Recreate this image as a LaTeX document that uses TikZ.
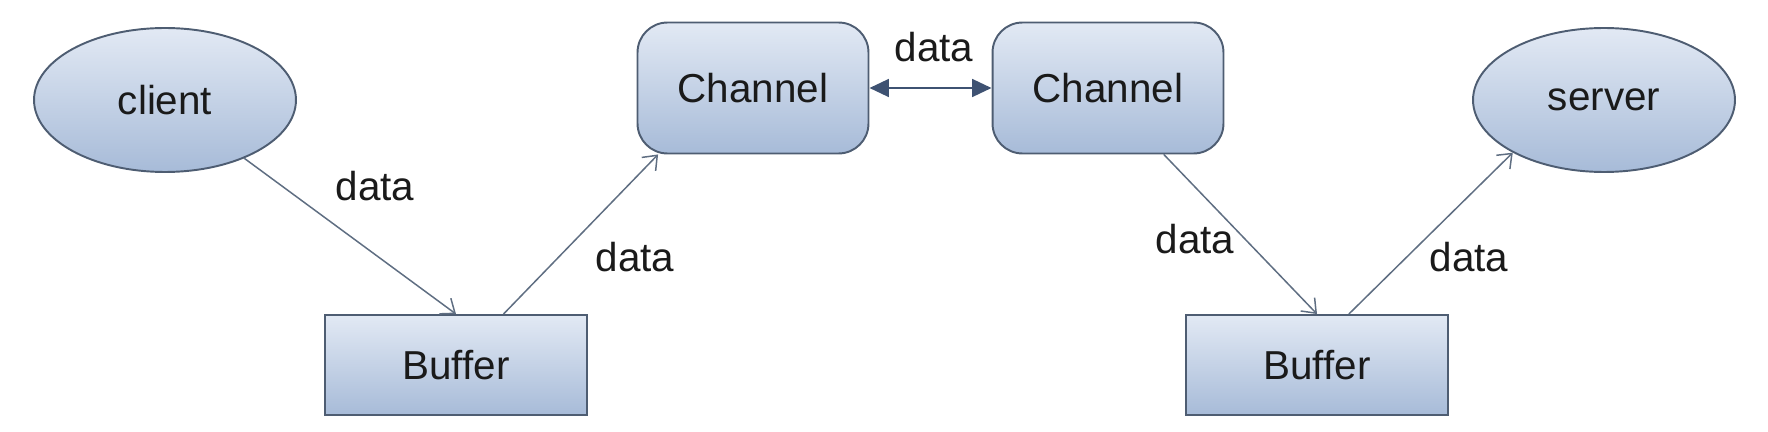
\documentclass[tikz,border=0pt]{standalone}
\usepackage{fontspec}
\setmainfont{Liberation Sans}
\usetikzlibrary{shapes.geometric,arrows.meta}
\definecolor{boxtop}{HTML}{E2E9F4}
\definecolor{boxbot}{HTML}{A7BBD8}
\definecolor{boxline}{HTML}{4E5D72}
\definecolor{flowline}{HTML}{5F6E82}
\definecolor{linkline}{HTML}{3E5272}
\definecolor{labeltext}{HTML}{1A1A1A}
\newcommand{\labelfont}{\fontsize{23}{27}\selectfont}
\newcommand{\flowlabel}[3]{\node[flowtext] (#1) at (#2,#3) {data};}
\tikzset{
  shaded/.style={draw=boxline, line width=1.1pt, top color=boxtop, bottom color=boxbot, text=labeltext, font=\labelfont},
  endpoint/.style={shaded, ellipse, minimum width=5.24cm, minimum height=2.88cm},
  bufferbox/.style={shaded, rectangle, minimum width=5.24cm, minimum height=2cm},
  channelbox/.style={shaded, rectangle, rounded corners=0.6cm, minimum width=4.62cm, minimum height=2.62cm},
  flow/.style={draw=flowline, line width=0.85pt, -{Straight Barb[length=7pt,width=11pt]}},
  link/.style={draw=linkline, line width=1.5pt, {Triangle[length=11pt,width=10pt]}-{Triangle[length=11pt,width=10pt]}},
  flowtext/.style={text=labeltext, font=\labelfont}
}
\begin{document}
\begin{tikzpicture}[x=0.02cm,y=-0.02cm]
    \useasboundingbox (0,0) rectangle (1768,432);
    \node[endpoint] (client) at (165,100) {client};
    \node[bufferbox] (buf1) at (456,365) {Buffer};
    \node[channelbox] (chan1) at (753,88) {Channel};
    \node[channelbox] (chan2) at (1108,88) {Channel};
    \node[bufferbox] (buf2) at (1317,365) {Buffer};
    \node[endpoint] (server) at (1604,100) {server};
    \draw[flow] (client) -- (buf1.north);
    \draw[flow] (buf1.47) -- (chan1.215);
    \draw[link] (chan1) -- (chan2);
    \draw[flow] (chan2.-50) -- (buf2.north);
    \draw[flow] (buf2.58) -- (server.210);
    \flowlabel{d1}{375}{186}
    \flowlabel{d2}{635}{257}
    \flowlabel{d3}{934}{47}
    \flowlabel{d4}{1195}{239}
    \flowlabel{d5}{1469}{257}
\end{tikzpicture}
\end{document}
